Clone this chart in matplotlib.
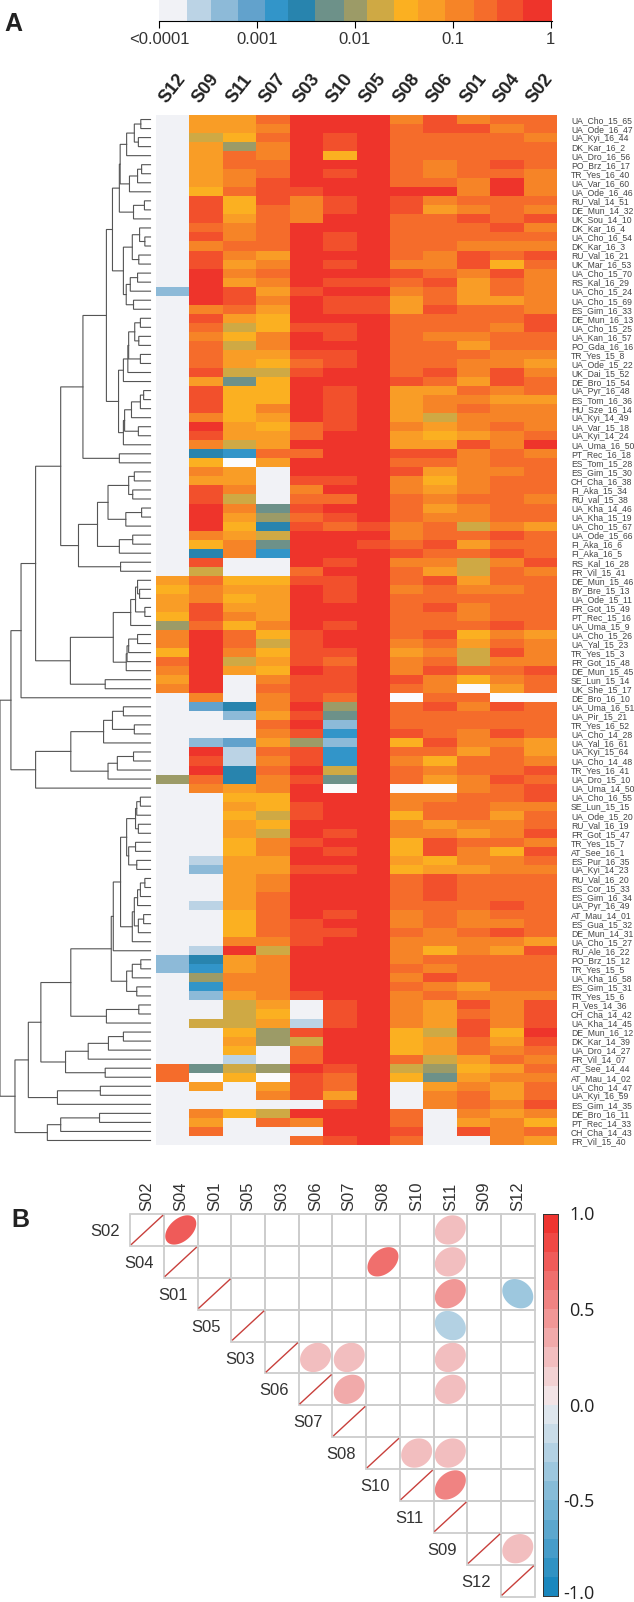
import numpy as np
import matplotlib
matplotlib.use("Agg")
import matplotlib.pyplot as plt
from matplotlib.colors import ListedColormap, BoundaryNorm, LinearSegmentedColormap
from matplotlib.patches import Rectangle

W, H = 634, 1602
plt.rcParams["font.family"] = ["Liberation Sans", "DejaVu Sans"]

# Panel A: colour scale
scale_breaks = [-4, -3.715, -3.467, -3.19, -2.914, -2.679, -2.407, -2.109, -1.878,
                -1.606, -1.358, -1.082, -0.784, -0.545, -0.289, 0.012]
scale_ticks = [-4, -3, -2, -1, 0]
scale_labels = ["<0.0001", "0.001", "0.01", "0.1", "1"]
level_colors = ["#F1F2F6", "#BBD3E5", "#8DBAD8", "#62A2CC", "#3295C9", "#2884AE", "#6D9189",
                "#9C9B67", "#CFA944", "#FBB021", "#F99D26", "#F68427", "#F56C2B", "#F2502C",
                "#EE342B", "#FBFBFC"]

samples_a = ["S12", "S09", "S11", "S07", "S03", "S10", "S05", "S08", "S06", "S01", "S04", "S02"]

isolates = [
    "UA_Cho_15_65", "UA_Ode_16_47", "UA_Kyi_16_44", "DK_Kar_16_2", "UA_Dro_16_56", "PO_Brz_16_17",
    "TR_Yes_16_40", "UA_Var_16_60", "UA_Ode_16_46", "RU_Val_14_51", "DE_Mun_14_32", "UK_Sou_14_10",
    "DK_Kar_16_4", "UA_Cho_16_54", "DK_Kar_16_3", "RU_Val_16_21", "UK_Mar_16_53", "UA_Cho_15_70",
    "RS_Kal_16_29", "UA_Cho_15_24", "UA_Cho_15_69", "ES_Gim_16_33", "DE_Mun_16_13", "UA_Cho_15_25",
    "UA_Kan_16_57", "PO_Gda_16_16", "TR_Yes_15_8", "UA_Ode_15_22", "UK_Dai_15_52", "DE_Bro_15_54",
    "UA_Pyr_16_48", "ES_Tom_16_36", "HU_Sze_16_14", "UA_Kyi_14_49", "UA_Var_15_18", "UA_Kyi_14_24",
    "UA_Uma_16_50", "PT_Rec_16_18", "ES_Tom_15_28", "ES_Gim_15_30", "CH_Cha_16_38", "FI_Aka_15_34",
    "RU_val_15_38", "UA_Kha_14_46", "UA_Kha_15_19", "UA_Cho_15_67", "UA_Ode_15_66", "FI_Aka_16_6",
    "FI_Aka_16_5", "RS_Kal_16_28", "FR_Vil_15_41", "DE_Mun_15_46", "BY_Bre_15_13", "UA_Ode_15_11",
    "FR_Got_15_49", "PT_Rec_15_16", "UA_Uma_15_9", "UA_Cho_15_26", "UA_Yal_15_23", "TR_Yes_15_3",
    "FR_Got_15_48", "DE_Mun_15_45", "SE_Lun_15_14", "UK_She_15_17", "DE_Bro_16_10", "UA_Uma_16_51",
    "UA_Pir_15_21", "TR_Yes_16_52", "UA_Cho_14_28", "UA_Yal_16_61", "UA_Kyi_15_64", "UA_Cho_14_48",
    "TR_Yes_16_41", "UA_Dro_15_10", "UA_Uma_14_50", "UA_Cho_16_55", "SE_Lun_15_15", "UA_Ode_15_20",
    "RU_Val_16_19", "FR_Got_15_47", "TR_Yes_15_7", "AT_See_16_1", "ES_Pur_16_35", "UA_Kyi_14_23",
    "RU_Val_16_20", "ES_Cor_15_33", "ES_Gim_16_34", "UA_Pyr_16_49", "AT_Mau_14_01", "ES_Gua_15_32",
    "DE_Mun_14_31", "UA_Cho_15_27", "RU_Ale_16_22", "PO_Brz_15_12", "TR_Yes_15_5", "UA_Kha_16_58",
    "ES_Gim_15_31", "TR_Yes_15_6", "FI_Ves_14_36", "CH_Cha_14_42", "UA_Kha_14_45", "DE_Mun_16_12",
    "DK_Kar_14_39", "UA_Dro_14_27", "FR_Vil_14_07", "AT_See_14_44", "AT_Mau_14_02", "UA_Cho_14_47",
    "UA_Kyi_16_59", "ES_Gim_14_35", "DE_Bro_16_11", "PT_Rec_14_33", "CH_Cha_14_43", "FR_Vil_15_40",
]

# one hex digit per sample: index into level_colors (f = no data)
row_levels = [
    "0aaceeebdbcc", "0aabeeecddbc", "089cedeccccb", "0a7bedeccccc", "0acbe9eccccc", "0acceeecbcdc",
    "0abcedecbccb", "0abdeeeccbeb", "09cddeeeebeb", "0d9dbdedbccc", "0d9cbdedabcb", "0dacbeeccdcd",
    "0cbceeecccdb", "0dbcedeccccc", "0bccedeccbbb", "0dbaeeecbdcd", "0dabedebbd9c", "0ebceeedcbdb",
    "0eabeddcdacb", "2edadeebcacb", "0edbeddacaab", "0bcaeddadccb", "0da9eeeccccd", "0c89ddecccbd",
    "0b9bedecbbcc", "0c8beeeccacc", "0caaddecccbb", "0ca9cdeccbba", "0d88deecdbdb", "0a69eeedcadc",
    "0d99edeaacbc", "0d99edeabbaa", "0d9bedeabcbb", "0b9aedea8bbb", "0ea9cdebabcb", "0daaceea9abc",
    "0b8aeeeaadbe", "054cceeddbcb", "09faeeeccbcc", "0ba0eeedabbc", "0aa0ddeb9bcc", "0db0beebabcc",
    "0d80ccecbccb", "0eb6deecabcc", "0ea7cdecbbcc", "0e95dcdbc8ba", "0ba8eeebccdc", "09b6eedcdacc",
    "05b4eeedccdc", "0d00edebb8bd", "0800ceeca8cb", "ac99ddecdacc", "9baaedebcbbc", "ab9aedeccccc",
    "adaaeeecdbcc", "9dbaeeeccbcc", "7c9bedecccdc", "bec9deecd9ba", "bec8deebcacb", "9eb9ddeab8db",
    "ce8adcebc8bb", "bea9edebdccd", "ae0bddedb9bc", "be0cddecbfac", "0b0bdcefccff", "035be7ecdbdc",
    "002ad6eccccc", "000ce2eccccc", "000bd4edcbdc", "023a72e9dbba", "0e1cd4eccaca", "0d1bd4eb9ccb",
    "0e5ce8ecbccd", "7c5bd6ecabdc", "0babefeffbcd", "0099eeebbccd", "00a9deebccbb", "0098dee9ccac",
    "00a9eeebabbc", "00a8edebbabd", "009bdee9dccb", "009bede9db9d", "01aaeeea9bbc", "02aadde9aabb",
    "00abeeecdccc", "00abeeecdccc", "00aceeecdccc", "01aceeecccdc", "009cedebcbcc", "009cdeebcbbc",
    "009cddecbcdc", "00bbdeebbbba", "01e8eeeb9bad", "25abeeebcccc", "24abeeecbccc", "07bbeeebdccc",
    "04bbeeecbacc", "02abdeebcbbb", "008a0debadbd", "00890debacbd", "088a1debadbd", "0097dee98d9e",
    "00a78ee9acad", "0090cee9acbc", "0010ceec8acb", "c687ede879ac", "cf9fdce96abb", "0a0adce0abac",
    "000bdae0bcac", "00000de0bcbd", "0b98eeec0bab", "0a0cbeec0ab9", "0c000eed0dbc", "0000cdec00ba",
]

# dendrogram merges as [height, upper branch, lower branch]; L is a leaf, leaves run top to bottom
L = 0
c1 = [59, [40, [24, L, L], [30, L, L]], L]
c2 = [52, [32, [22, L, L], L], L]
c3 = [42, [15, L, L], L]
c4 = [77, [75, c1, c2], c3]
c5 = [45, [27, L, [14, L, L]], [29, L, L]]
c6 = [60, [50, [32, L, L], L], [42, L, L]]
c7 = [94, c4, [67, c5, c6]]
c8 = [67, [56, [54, [39, [25, L, L], [29, L, L]], [25, L, L]], L], L]
c9 = [67, [64, [47, [25, [17, L, L], L], L], [30, L, L]], L]
c10 = [79, c8, c9]
c11 = [109, c7, c10]
c12 = [167, c11, [77, L, L]]
c13 = [105, [54, [40, L, L], [44, L, L]], [61, [22, L, L], L]]
c14 = [131, c13, [77, [44, L, L], L]]
c15 = [178, c14, [74, L, L]]
c16 = [222, c12, c15]
c17 = [49, [37, [32, L, [27, L, L]], [14, L, L]], L]
c18 = [60, [58, [54, [32, L, L], L], L], L]
c19 = [198, [92, c17, c18], [112, L, L]]
c20 = [320, [284, c16, c19], L]
c21 = [116, [94, [67, L, L], [40, L, L]], L]
c22 = [105, [82, [42, L, L], L], L]
c23 = [284, [197, c21, c22], L]
c24 = [345, c20, c23]
c25 = [59, [37, [34, [25, L, L], L], [30, L, L]], [54, [37, L, L], [34, L, L]]]
c26 = [45, [40, [32, [25, [14, L, L], L], L], [30, [17, L, L], L]], L]
c27 = [92, [74, c25, c26], L]
c28 = [59, [45, [24, L, L], L], [34, L, L]]
c29 = [197, [97, c27, c28], [109, [29, L, L], L]]
c30 = [210, [154, [104, [67, L, L], L], L], [112, L, L]]
c31 = [230, [124, L, L], L]
c32 = [302, [271, c29, c30], c31]
c33 = [255, [222, [126, L, L], L], L]
c34 = [335, c32, c33]
tree = [372, c24, c34]

# Panel B: correlations
samples_b = ["S02", "S04", "S01", "S05", "S03", "S06", "S07", "S08", "S10", "S11", "S09", "S12"]
corr_a = ["S02", "S02", "S04", "S04", "S01", "S01", "S05", "S03", "S03", "S03", "S06", "S06",
          "S08", "S08", "S10", "S09"]
corr_b = ["S04", "S11", "S08", "S11", "S11", "S12", "S11", "S06", "S07", "S11", "S07", "S11",
          "S10", "S11", "S11", "S12"]
corr_r = [0.72, 0.25, 0.62, 0.25, 0.42, -0.35, -0.3, 0.25, 0.25, 0.25, 0.35, 0.25, 0.25, 0.25, 0.55, 0.25]
corr_bins = np.round(np.arange(-1, 1.01, 0.1), 1)
corr_ticks = [1.0, 0.5, 0.0, -0.5, -0.98]
corr_tick_labels = ["1.0", "0.5", "0.0", "-0.5", "-1.0"]


def axpx(fig, left, top, right, bottom):
    return fig.add_axes([left / W, 1 - bottom / H, (right - left) / W, (bottom - top) / H])


fig = plt.figure(figsize=(W / 100, H / 100), dpi=100)
cmap_a = ListedColormap(level_colors)
norm_a = BoundaryNorm(np.arange(-0.5, 16.5), cmap_a.N)

# colour scale
ax = axpx(fig, 159, 0, 552, 20.5)
ax.pcolormesh(scale_breaks, [0, 1], np.arange(15).reshape(1, -1), cmap=cmap_a, norm=norm_a)
ax.set_xlim(-4, 0.012)
ax.set_ylim(0, 1)
ax.set_yticks([])
ax.set_xticks(scale_ticks)
ax.set_xticklabels(scale_labels, fontsize=12, color="#333333")
ax.tick_params(axis="x", length=5, width=0.8, pad=3)
ax.spines[["top", "left", "right"]].set_visible(False)

# heatmap
ax = axpx(fig, 156, 115, 557, 1145)
matrix = np.array([[int(ch, 16) for ch in row] for row in row_levels])
ax.pcolormesh(np.arange(13), np.arange(len(isolates) + 1), matrix, cmap=cmap_a, norm=norm_a)
ax.set_xlim(0, 12)
ax.set_ylim(len(isolates), 0)
ax.set_xticks(np.arange(12) + 0.5)
ax.set_xticklabels(samples_a, rotation=52, ha="center", va="bottom", fontsize=13,
                   fontweight="bold", color="#222222")
ax.xaxis.tick_top()
ax.set_yticks(np.arange(len(isolates)) + 0.5)
ax.set_yticklabels(isolates, fontsize=6.2, color="#444444")
ax.yaxis.tick_right()
ax.tick_params(axis="x", length=0, pad=6)
ax.tick_params(axis="y", length=0, pad=10)
for s in ax.spines.values():
    s.set_visible(False)

# dendrogram
ax = axpx(fig, 0, 115, 150.5, 1145)
ax.set_xlim(372, 0)
ax.set_ylim(len(isolates), 0)
ax.axis("off")
leaf_counter = [0]


def draw_branch(node):
    if node == L:
        leaf_counter[0] += 1
        return leaf_counter[0] - 0.5, 0
    height, upper, lower = node
    y1, h1 = draw_branch(upper)
    y2, h2 = draw_branch(lower)
    ax.plot([h1, height, height, h2], [y1, y1, y2, y2], color="#555555", lw=0.8,
            snap=False, clip_on=False, solid_joinstyle="miter")
    return (y1 + y2) / 2, height


draw_branch(tree)

# correlation grid
ax = axpx(fig, 130.2, 1214, 534.6, 1596.5)
n = len(samples_b)
ax.set_xlim(0, n)
ax.set_ylim(n, 0)
cmap_b = LinearSegmentedColormap.from_list(
    "corr", [(0, "#1A87BE"), (0.47, "#DDE6ED"), (0.53, "#F3E4E6"), (1, "#EE3430")], N=20)
ax.axis("off")
for i in range(n):
    for j in range(i, n):
        ax.add_patch(Rectangle((j, i), 1, 1, fill=False, ec="#CDCDCD", lw=1.3, clip_on=False))
    ax.plot([i + 0.04, i + 0.96], [i + 0.95, i + 0.05], color="#C8403C", lw=1)
    ax.text(i - 0.3, i + 0.55, samples_b[i], ha="right", va="center", fontsize=12, color="#333333")
    ax.text(i + 0.5, -0.1, samples_b[i], ha="center", va="bottom", rotation=90, fontsize=12,
            color="#333333")

t = np.linspace(0, 2 * np.pi, 120)
for a, b, r in zip(corr_a, corr_b, corr_r):
    i, j = samples_b.index(a), samples_b.index(b)
    d = np.arccos(r * 0.6)
    ax.fill(j + 0.5 + 0.46 * np.cos(t + d / 2), i + 0.5 - 0.46 * np.cos(t - d / 2),
            color=cmap_b((r + 1) / 2), lw=0)

# correlation colour bar
ax = axpx(fig, 542.7, 1213.5, 558, 1596)
ax.pcolormesh([0, 1], corr_bins, ((corr_bins[:-1] + corr_bins[1:]) / 2).reshape(-1, 1),
              cmap=cmap_b, vmin=-1, vmax=1)
ax.set_xlim(0, 1)
ax.set_ylim(-1, 1)
ax.set_xticks([])
ax.yaxis.tick_right()
ax.set_yticks(corr_ticks)
ax.set_yticklabels(corr_tick_labels, fontsize=13, family="Open Sans", color="#222222", ha="right")
ax.tick_params(axis="y", length=0, pad=26.5)
for s in ax.spines.values():
    s.set_linewidth(0.7)
    s.set_color("#333333")

fig.text(11 / W, 1 - 1227 / H, "B", fontsize=18, fontweight="bold", color="#222222")
fig.text(4 / W, 1 - 31 / H, "A", fontsize=18, fontweight="bold", color="#222222")

fig.savefig("out.png", dpi=100)
